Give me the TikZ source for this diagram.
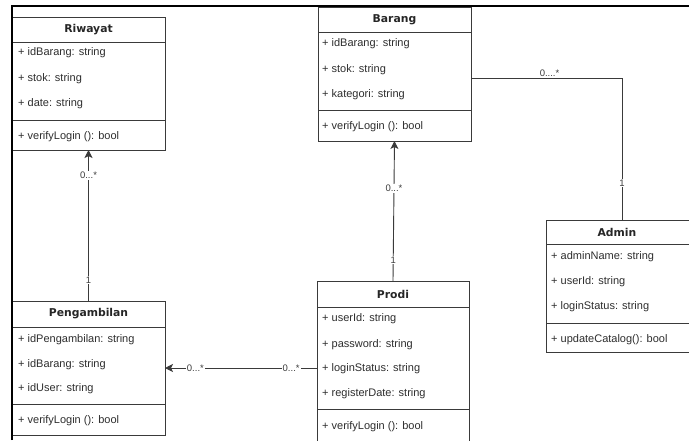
\documentclass[tikz,border=0pt]{standalone}
\usepackage{fontspec}
\setmainfont{Liberation Sans}
\newfontfamily\titlefont{DejaVu Sans}
\usetikzlibrary{arrows.meta}
\definecolor{edge}{HTML}{3A3A3A}
\definecolor{txt}{HTML}{2E2E2E}
\definecolor{multc}{HTML}{3C3C3C}
\newcommand\classframe[5]{%
  \node[classbox, anchor=north west, minimum width={(#4-#2)*1pt}, minimum height={(#5-#3)*1pt}] (#1) at (#2,#3) {};}
\begin{document}
\begin{tikzpicture}[x=1pt,y=-1pt,
  classbox/.style={draw=edge, line width=0.9pt, fill=white, inner sep=0pt, outer sep=0pt},
  sepline/.style={draw=edge, line width=0.9pt},
  ctitle/.style={font=\titlefont\bfseries\fontsize{10.8}{12}\selectfont, text=black!85, inner sep=0pt},
  attr/.style={anchor=west, font=\fontsize{11}{13}\selectfont, text=txt, inner sep=0pt},
  conn/.style={draw=edge, line width=0.9pt},
  arr/.style={conn, -{Stealth[length=8pt,width=8pt,inset=2pt]}},
  mult/.style={font=\fontsize{9.5}{11}\selectfont, text=multc, fill=white, inner sep=1pt},
  frameline/.style={draw=black, line width=2.2pt}
]
\useasboundingbox (0,0) rectangle (689,440);

% ---------- Riwayat ----------
\classframe{riwayat}{12}{17}{165}{150}
\draw[sepline] (12,42) -- (165,42);
\draw[sepline] (12,120) -- (165,120);
\node[ctitle] (riwayat-t) at (88.5,29.5) {Riwayat};
\node[attr] (riwayat-a1) at (18,53) {+ idBarang: string};
\node[attr] (riwayat-a2) at (18,79) {+ stok: string};
\node[attr] (riwayat-a3) at (18,104) {+ date: string};
\node[attr] (riwayat-m1) at (18,137) {+ verifyLogin (): bool};

% ---------- Barang ----------
\classframe{barang}{318}{7}{471}{141}
\draw[sepline] (318,32) -- (471,32);
\draw[sepline] (318,110) -- (471,110);
\node[ctitle] (barang-t) at (394.5,19.5) {Barang};
\node[attr] (barang-a1) at (322,44) {+ idBarang: string};
\node[attr] (barang-a2) at (322,70) {+ stok: string};
\node[attr] (barang-a3) at (322,95) {+ kategori: string};
\node[attr] (barang-m1) at (322,127) {+ verifyLogin (): bool};

% ---------- Admin ----------
\classframe{admin}{546}{220}{698}{352}
\draw[sepline] (546,244) -- (698,244);
\draw[sepline] (546,323) -- (698,323);
\node[ctitle] (admin-t) at (617,232) {Admin};
\node[attr] (admin-a1) at (551,257) {+ adminName: string};
\node[attr] (admin-a2) at (551,282) {+ userId: string};
\node[attr] (admin-a3) at (551,307) {+ loginStatus: string};
\node[attr] (admin-m1) at (551,340) {+ updateCatalog(): bool};

% ---------- Prodi ----------
\classframe{prodi}{317}{281}{469}{445}
\draw[sepline] (317,307) -- (469,307);
\draw[sepline] (317,409) -- (469,409);
\node[ctitle] (prodi-t) at (393,294) {Prodi};
\node[attr] (prodi-a1) at (322,319) {+ userId: string};
\node[attr] (prodi-a2) at (322,345) {+ password: string};
\node[attr] (prodi-a3) at (322,369) {+ loginStatus: string};
\node[attr] (prodi-a4) at (322,394) {+ registerDate: string};
\node[attr] (prodi-m1) at (322,427) {+ verifyLogin (): bool};

% ---------- Pengambilan ----------
\classframe{peng}{12}{301}{165}{435}
\draw[sepline] (12,327) -- (165,327);
\draw[sepline] (12,404) -- (165,404);
\node[ctitle] (peng-t) at (88.5,314) {Pengambilan};
\node[attr] (peng-a1) at (18,340) {+ idPengambilan: string};
\node[attr] (peng-a2) at (18,365) {+ idBarang: string};
\node[attr] (peng-a3) at (18,389) {+ idUser: string};
\node[attr] (peng-m1) at (18,421) {+ verifyLogin (): bool};

% ---------- connectors ----------
\draw[arr] (peng.north) -- node[mult, pos=0.14] {1} node[mult, pos=0.83] {0...*} (riwayat.south);
\draw[arr] (prodi.north) -- node[mult, pos=0.15] {1} node[mult, pos=0.66] {0...*} (barang.south);
\draw[arr] (peng.east -| prodi.west) -- node[mult, pos=0.17] {0...*} node[mult, pos=0.80] {0...*} (peng.east);
\draw[conn] ([yshift=-4pt]barang.east) -| node[mult, pos=0.26, above, fill=none, inner sep=0.5pt] {0....*} node[mult, pos=0.87] {1} (admin.north);

% ---------- frame ----------
\draw[frameline] (12,440) -- (12,6) -- (689,6);
\end{tikzpicture}
\end{document}
